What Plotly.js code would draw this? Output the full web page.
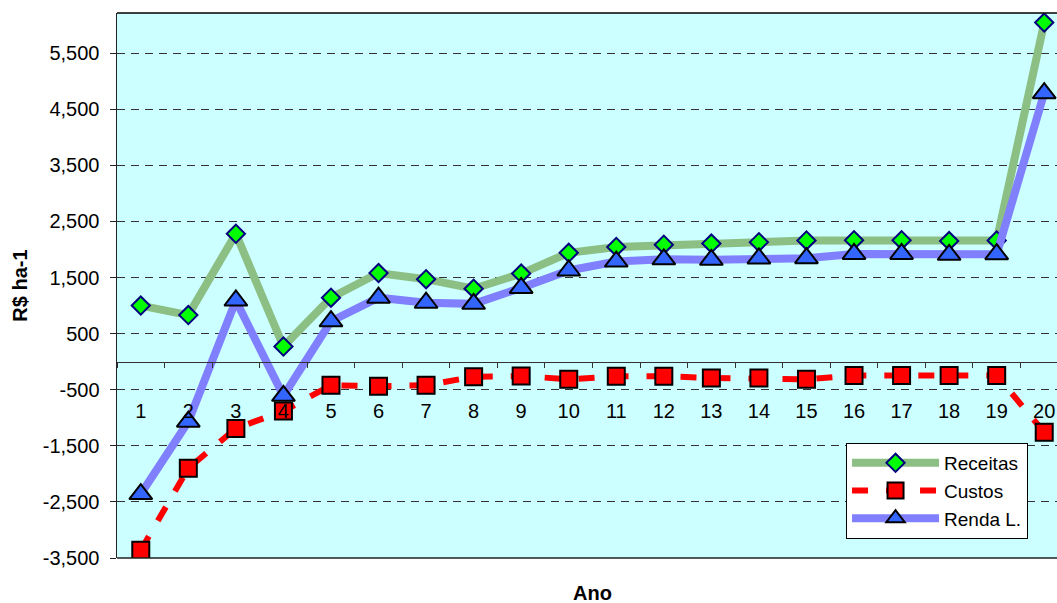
<!DOCTYPE html>
<html>
<head>
<meta charset="utf-8">
<script src="https://cdn.plot.ly/plotly-3.0.1.min.js"></script>
<style>
  html, body { margin: 0; padding: 0; overflow: hidden; background: #fff; }
  #chart { width: 1070px; height: 603px; }
</style>
</head>
<body>
<div id="chart"></div>
<script>
// Anos do fluxo de caixa (eixo de categorias)
const anos = ['1','2','3','4','5','6','7','8','9','10','11','12','13','14','15','16','17','18','19','20'];

// Valores em R$ por hectare
const receitas = [1000, 830, 2280, 270, 1140, 1580, 1470, 1300, 1570, 1940, 2045, 2085, 2105, 2130, 2160, 2165, 2165, 2150, 2160, 6045];
const custos = [-3360, -1900, -1190, -880, -420, -440, -420, -270, -255, -315, -260, -260, -290, -290, -315, -245, -245, -245, -245, -1260];
const rendaLiquida = [-2360, -1070, 1090, -610, 720, 1140, 1050, 1030, 1315, 1625, 1785, 1825, 1815, 1840, 1845, 1920, 1920, 1905, 1915, 4785];

// Marcas do eixo Y
const yTickVals = [-3500, -2500, -1500, -500, 500, 1500, 2500, 3500, 4500, 5500];
const yTickText = ['-3,500', '-2,500', '-1,500', '-500', '500', '1,500', '2,500', '3,500', '4,500', '5,500'];

const yRange = [-3500, 6215];
const FONT = 'Arial, "Liberation Sans", sans-serif';
const FS = 20;

const traces = [
  {
    name: 'Receitas',
    x: anos, y: receitas,
    type: 'scatter', mode: 'lines+markers',
    line: { color: '#8cbf84', width: 8 },
    marker: { symbol: 'diamond', size: 14, color: '#00ff00', line: { color: '#000080', width: 2 } }
  },
  {
    name: 'Custos',
    x: anos, y: custos,
    type: 'scatter', mode: 'lines+markers',
    line: { color: '#ff0000', width: 6, dash: '16px,18px' },
    marker: { symbol: 'square', size: 17, color: '#ff0000', line: { color: '#000000', width: 2 } }
  },
  {
    name: 'Renda L.',
    x: anos, y: rendaLiquida,
    type: 'scatter', mode: 'lines+markers',
    line: { color: '#8080ff', width: 8 },
    marker: { symbol: 'triangle-up', size: 20, color: '#3366ff', line: { color: '#000000', width: 2 } }
  }
];

// Eixo X cruza o eixo Y no zero
const zeroPos = (0 - yRange[0]) / (yRange[1] - yRange[0]);

const layout = {
  width: 1070,
  height: 603,
  margin: { l: 117, r: 2, t: 13, b: 45 },
  paper_bgcolor: '#ffffff',
  plot_bgcolor: '#ccffff',
  font: { family: FONT, size: FS, color: '#000000' },
  showlegend: true,
  legend: {
    x: 0.7666, y: 0.211, xanchor: 'left', yanchor: 'top',
    bgcolor: '#ffffff', bordercolor: '#000000', borderwidth: 1,
    font: { family: FONT, size: 19, color: '#000000' },
    itemwidth: 87,
    tracegroupgap: 0
  },
  xaxis: {
    type: 'category',
    range: [-0.5, 19.5],
    anchor: 'free',
    position: zeroPos,
    showline: true, linecolor: '#333333', linewidth: 1,
    showgrid: false, zeroline: false,
    ticks: 'outside', tickson: 'boundaries', ticklen: 5, tickcolor: '#333333', tickwidth: 1,
    ticklabelstandoff: 31,
    tickfont: { family: FONT, size: FS, color: '#000000' },
    fixedrange: true
  },
  yaxis: {
    range: yRange,
    tickvals: yTickVals,
    ticktext: yTickText,
    showline: true, linecolor: '#222222', linewidth: 1.5,
    ticks: 'outside', ticklen: 6, tickcolor: '#222222',
    ticklabelstandoff: 6,
    showgrid: true, gridcolor: '#333333', gridwidth: 1, griddash: '8px,6px',
    zeroline: false,
    tickfont: { family: FONT, size: FS, color: '#000000' },
    title: { text: 'R$ ha-1', font: { family: FONT, size: FS, color: '#000000', weight: 'bold' }, standoff: 10 },
    fixedrange: true
  },
  shapes: [
    { type: 'line', xref: 'paper', yref: 'paper', x0: 0, x1: 1, y0: 1, y1: 1, line: { color: '#000000', width: 1.5 } },
    { type: 'line', xref: 'paper', yref: 'paper', x0: 0, x1: 1, y0: 0, y1: 0, line: { color: '#222222', width: 1.5 } }
  ],
  annotations: [
    { text: '<b>Ano</b>', xref: 'paper', yref: 'paper', x: 0.5, y: -0.064, xanchor: 'center', yanchor: 'middle',
      showarrow: false, font: { family: FONT, size: FS, color: '#000000' } }
  ]
};

Plotly.newPlot('chart', traces, layout, { displayModeBar: false, staticPlot: true });
</script>
</body>
</html>
